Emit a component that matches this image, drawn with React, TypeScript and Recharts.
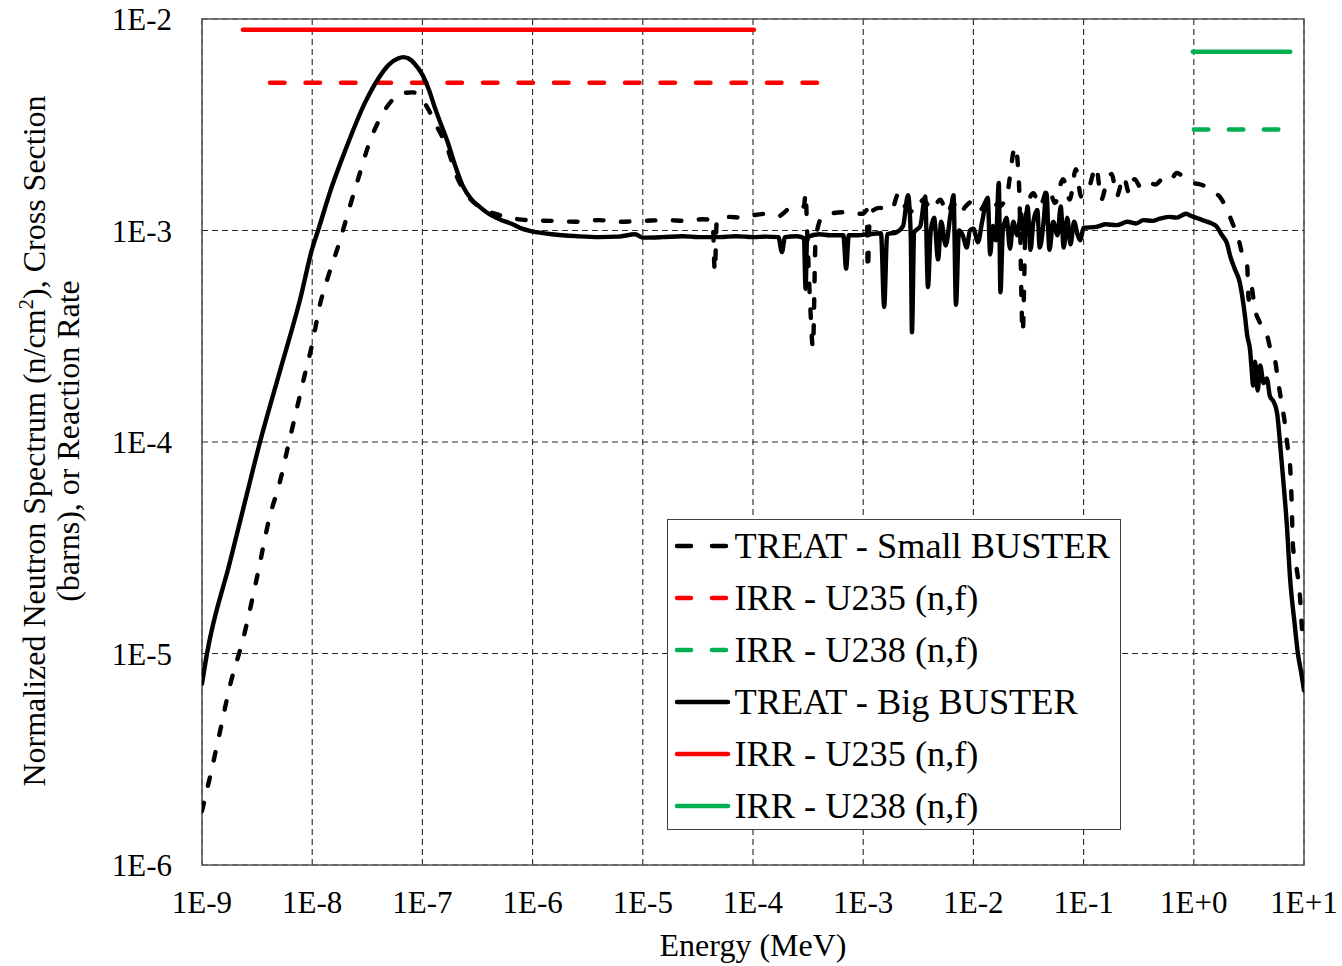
import React from 'react';
import {
  ComposedChart,
  Line,
  XAxis,
  YAxis,
  CartesianGrid,
  Legend,
  ReferenceArea,
} from 'recharts';

const FONT = '"Liberation Serif", "Times New Roman", serif';

const X_TICKS = [1e-9, 1e-8, 1e-7, 1e-6, 1e-5, 1e-4, 1e-3, 1e-2, 1e-1, 1, 10];
const X_TICK_LABELS = ['1E-9', '1E-8', '1E-7', '1E-6', '1E-5', '1E-4', '1E-3', '1E-2', '1E-1', '1E+0', '1E+1'];
const Y_TICKS = [1e-6, 1e-5, 1e-4, 1e-3, 1e-2];
const Y_TICK_LABELS = ['1E-6', '1E-5', '1E-4', '1E-3', '1E-2'];

// [energy (MeV), value]
const SMALL_BUSTER: [number, number][] = [
  [1e-9, 1.8e-6], [1.18e-9, 2.6e-6], [1.46e-9, 4.3e-6], [1.8e-9, 7.1e-6], [2.36e-9, 1.17e-5],
  [3.16e-9, 2.3e-5], [4.1e-9, 4.4e-5], [5.1e-9, 6.5e-5], [6e-9, 9.4e-5], [7.3e-9, 1.46e-4],
  [8.6e-9, 2.1e-4], [1e-8, 2.9e-4], [1.18e-8, 4.5e-4], [1.36e-8, 5.8e-4], [1.79e-8, 9.0e-4],
  [2.11e-8, 1.21e-3], [2.71e-8, 1.87e-3], [3.2e-8, 2.48e-3], [4.4e-8, 3.6e-3], [5.5e-8, 4.2e-3],
  [6.67e-8, 4.46e-3], [8.2e-8, 4.5e-3], [9.5e-8, 4.3e-3], [1.1e-7, 3.84e-3], [1.36e-7, 3.09e-3],
  [1.67e-7, 2.48e-3], [2.06e-7, 1.79e-3], [2.6e-7, 1.45e-3], [3.33e-7, 1.29e-3], [5.06e-7, 1.18e-3],
  [8.9e-7, 1.12e-3], [1.5e-6, 1.11e-3], [2.5e-6, 1.1e-3], [4e-6, 1.12e-3], [6e-6, 1.1e-3],
  [1e-5, 1.11e-3], [1.6e-5, 1.12e-3], [2.5e-5, 1.11e-3], [3.5e-5, 1.13e-3], [4.3e-5, 1.12e-3],
  [4.5e-5, 6.4e-4], [4.7e-5, 1.13e-3], [6e-5, 1.16e-3], [8e-5, 1.15e-3], [1e-4, 1.18e-3],
  [1.3e-4, 1.2e-3], [1.7e-4, 1.17e-3], [2.2e-4, 1.28e-3], [2.9e-4, 1.3e-3], [3.0e-4, 1.5e-3],
  [3.1e-4, 1.0e-3], [3.3e-4, 4.5e-4], [3.5e-4, 2.8e-4], [3.7e-4, 9.0e-4], [4.2e-4, 1.15e-3],
  [5e-4, 1.2e-3], [6.5e-4, 1.22e-3], [8e-4, 1.2e-3], [1.0e-3, 1.2e-3], [1.08e-3, 1.25e-3],
  [1.1e-3, 6.5e-4], [1.15e-3, 1.2e-3], [1.4e-3, 1.28e-3], [1.8e-3, 1.25e-3], [2.1e-3, 1.5e-3],
  [2.4e-3, 1.3e-3], [3e-3, 1.22e-3], [3.5e-3, 1.4e-3], [4.2e-3, 1.25e-3], [5e-3, 1.4e-3],
  [5.8e-3, 1.2e-3], [6.5e-3, 1.35e-3], [7.5e-3, 1.2e-3], [8.5e-3, 1.3e-3], [1.0e-2, 1.38e-3],
  [1.15e-2, 1.25e-3], [1.4e-2, 1.45e-3], [1.7e-2, 1.3e-3], [2.0e-2, 1.45e-3], [2.4e-2, 2.5e-3],
  [2.6e-2, 1.6e-3], [2.8e-2, 3.3e-4], [3.0e-2, 1.2e-3], [3.5e-2, 1.5e-3], [4e-2, 1.3e-3],
  [4.8e-2, 1.6e-3], [5.5e-2, 1.35e-3], [6.5e-2, 1.75e-3], [7.5e-2, 1.4e-3], [8.5e-2, 1.95e-3],
  [9.5e-2, 1.45e-3], [1.1e-1, 1.55e-3], [1.3e-1, 2.0e-3], [1.45e-1, 1.4e-3], [1.6e-1, 1.65e-3],
  [1.8e-1, 1.85e-3], [2.0e-1, 1.45e-3], [2.3e-1, 1.8e-3], [2.6e-1, 1.5e-3], [2.9e-1, 1.75e-3],
  [3.3e-1, 1.6e-3], [3.8e-1, 1.7e-3], [4.5e-1, 1.65e-3], [5.2e-1, 1.75e-3], [6e-1, 1.7e-3],
  [7e-1, 1.87e-3], [8.5e-1, 1.75e-3], [9.8e-1, 1.68e-3], [1.15, 1.65e-3], [1.32, 1.6e-3],
  [1.5, 1.52e-3], [1.73, 1.44e-3], [2.13, 1.16e-3], [2.3, 1.05e-3], [2.52, 9.3e-4],
  [2.8, 7.5e-4], [3.04, 7.0e-4], [3.15, 4.7e-4], [3.3, 5.5e-4], [3.6, 4.2e-4],
  [3.98, 3.66e-4], [4.3, 3.3e-4], [4.6, 3.2e-4], [5.0, 2.7e-4], [5.45, 2.45e-4],
  [5.8, 1.96e-4], [6.3, 1.5e-4], [6.7, 1.23e-4], [7.1, 9.5e-5], [7.46, 7.9e-5],
  [7.7, 5.5e-5], [7.95, 3.2e-5], [8.5, 2.6e-5], [9.2, 1.85e-5], [9.6, 1.3e-5], [10, 1.1e-5],
];

const BIG_BUSTER: [number, number][] = [
  [1e-9, 7.2e-6], [1.11e-9, 1.0e-5], [1.79e-9, 2.7e-5], [2.45e-9, 5.2e-5], [3.36e-9, 1.0e-4],
  [5.1e-9, 2.17e-4], [7.74e-9, 4.69e-4], [1e-8, 8.2e-4], [1.13e-8, 1.0e-3], [1.5e-8, 1.6e-3],
  [2e-8, 2.4e-3], [3e-8, 4.0e-3], [4e-8, 5.25e-3],
  [5e-8, 6.1e-3], [6e-8, 6.5e-3], [6.7e-8, 6.6e-3], [7.5e-8, 6.5e-3], [8.5e-8, 6.15e-3],
  [1e-7, 5.45e-3], [1.15e-7, 4.6e-3], [1.3e-7, 3.8e-3], [1.5e-7, 3.1e-3], [1.67e-7, 2.68e-3],
  [2e-7, 2.0e-3], [2.33e-7, 1.62e-3], [2.8e-7, 1.4e-3], [3.33e-7, 1.29e-3], [4e-7, 1.2e-3],
  [5e-7, 1.13e-3], [6.6e-7, 1.07e-3], [8e-7, 1.02e-3], [1e-6, 9.9e-4], [1.5e-6, 9.6e-4],
  [2.5e-6, 9.4e-4], [4e-6, 9.3e-4], [6e-6, 9.35e-4], [8.5e-6, 9.6e-4], [1e-5, 9.25e-4],
  [1.5e-5, 9.3e-4], [2.3e-5, 9.4e-4], [3.2e-5, 9.3e-4], [5e-5, 9.3e-4], [7e-5, 9.4e-4],
  [1e-4, 9.3e-4], [1.3e-4, 9.35e-4], [1.7e-4, 9.3e-4], [1.83e-4, 7.9e-4], [1.95e-4, 9.3e-4],
  [2.5e-4, 9.4e-4], [2.9e-4, 9.2e-4], [3.0e-4, 5.3e-4], [3.1e-4, 9.3e-4], [4e-4, 9.6e-4],
  [5e-4, 9.5e-4], [6.6e-4, 9.5e-4], [7.0e-4, 6.6e-4], [7.4e-4, 9.5e-4], [9e-4, 9.5e-4],
  [1.1e-3, 9.6e-4], [1.45e-3, 9.7e-4], [1.55e-3, 4.35e-4], [1.65e-3, 9.6e-4], [2.0e-3, 9.8e-4],
  [2.3e-3, 1.05e-3], [2.55e-3, 1.47e-3], [2.7e-3, 9.5e-4], [2.77e-3, 3.3e-4], [2.9e-3, 9.8e-4],
  [3.3e-3, 1.05e-3], [3.65e-3, 1.45e-3], [3.87e-3, 5.4e-4], [4.1e-3, 1.0e-3], [4.4e-3, 1.15e-3],
  [4.78e-3, 7.3e-4], [5.1e-3, 1.1e-3], [5.6e-3, 8.5e-4], [6.2e-3, 1.2e-3], [6.6e-3, 1.47e-3],
  [6.95e-3, 4.45e-4], [7.4e-3, 1.0e-3], [8.0e-3, 9.5e-4], [8.7e-3, 8.3e-4], [9.3e-3, 1.0e-3],
  [1.0e-2, 1.02e-3], [1.1e-2, 8.8e-4], [1.2e-2, 1.1e-3], [1.35e-2, 1.43e-3], [1.42e-2, 7.7e-4],
  [1.5e-2, 1.05e-3], [1.6e-2, 9.0e-4], [1.7e-2, 1.68e-3], [1.76e-2, 5.1e-4], [1.85e-2, 1.0e-3],
  [2.0e-2, 1.15e-3], [2.15e-2, 8.2e-4], [2.3e-2, 1.1e-3], [2.5e-2, 9.5e-4], [2.7e-2, 1.2e-3],
  [2.9e-2, 9.0e-4], [3.1e-2, 1.3e-3], [3.3e-2, 8.1e-4], [3.5e-2, 1.1e-3], [3.8e-2, 1.25e-3],
  [4.0e-2, 8.3e-4], [4.3e-2, 1.05e-3], [4.6e-2, 1.5e-3], [4.9e-2, 8.1e-4], [5.3e-2, 1.1e-3],
  [5.8e-2, 9.5e-4], [6.2e-2, 1.3e-3], [6.6e-2, 8.3e-4], [7.1e-2, 1.15e-3], [7.6e-2, 8.6e-4],
  [8.2e-2, 1.1e-3], [8.8e-2, 9.6e-4], [9.3e-2, 9.0e-4], [1.0e-1, 1.03e-3], [1.3e-1, 1.04e-3],
  [1.6e-1, 1.07e-3], [2.0e-1, 1.06e-3], [2.5e-1, 1.1e-3], [3e-1, 1.08e-3], [3.5e-1, 1.12e-3],
  [4.2e-1, 1.11e-3], [5e-1, 1.14e-3], [6e-1, 1.16e-3], [7e-1, 1.15e-3], [8.5e-1, 1.2e-3],
  [9.5e-1, 1.17e-3], [1.2, 1.12e-3], [1.45, 1.08e-3], [1.62, 1.04e-3], [1.8, 9.5e-4],
  [2.0, 8.7e-4], [2.15, 7.5e-4], [2.35, 6.6e-4], [2.62, 5.65e-4], [2.8, 4.6e-4],
  [2.92, 3.9e-4], [3.05, 3.2e-4], [3.24, 2.72e-4], [3.35, 2.2e-4], [3.45, 1.85e-4],
  [3.6, 2.4e-4], [3.8, 1.75e-4], [4.0, 2.3e-4], [4.3, 1.9e-4], [4.6, 2.0e-4],
  [4.9, 1.65e-4], [5.3, 1.55e-4], [5.7, 1.37e-4], [6.05, 1.0e-4], [6.5, 6.5e-5],
  [7.0, 4.0e-5], [7.46, 2.3e-5], [8.2, 1.4e-5], [8.8, 1.0e-5], [9.4, 8.2e-6], [10, 6.7e-6],
];

const IRR_U235_SMALL: [number, number][] = [[4.14e-9, 5.0e-3], [3.9e-4, 5.0e-3]];
const IRR_U238_SMALL: [number, number][] = [[1.0, 3.0e-3], [6.3, 3.0e-3]];
const IRR_U235_BIG: [number, number][] = [[2.35e-9, 8.9e-3], [1.02e-4, 8.9e-3]];
const IRR_U238_BIG: [number, number][] = [[0.98, 7.0e-3], [7.5, 7.0e-3]];

type Series = {
  name: string;
  points: [number, number][];
  color: string;
  width: number;
  dash?: string;
  curve: 'monotone' | 'linear';
};

const SERIES: Series[] = [
  { name: 'TREAT - Small BUSTER', points: SMALL_BUSTER, color: '#000000', width: 4.4, dash: '8.5 17.5', curve: 'monotone' },
  { name: 'IRR - U235 (n,f)', points: IRR_U235_SMALL, color: '#FF0000', width: 4.5, dash: '14.5 21', curve: 'linear' },
  { name: 'IRR - U238 (n,f)', points: IRR_U238_SMALL, color: '#00B050', width: 4.5, dash: '14.5 20.5', curve: 'linear' },
  { name: 'TREAT - Big BUSTER', points: BIG_BUSTER, color: '#000000', width: 4.4, curve: 'monotone' },
  { name: 'IRR - U235 (n,f)', points: IRR_U235_BIG, color: '#FF0000', width: 4.5, curve: 'linear' },
  { name: 'IRR - U238 (n,f)', points: IRR_U238_BIG, color: '#00B050', width: 4.5, curve: 'linear' },
];

const labelFor = (ticks: number[], labels: string[]) => (v: number) => {
  const i = ticks.findIndex((t) => Math.abs(Math.log10(t) - Math.log10(v)) < 1e-6);
  return i >= 0 ? labels[i] : '';
};

const XTitle = () => (
  <text x={753} y={956} textAnchor="middle" fontFamily={FONT} fontSize={32} fill="#000">
    Energy (MeV)
  </text>
);

const YTitle = () => (
  <g fontFamily={FONT} fontSize={32} fill="#000">
    <text transform="translate(45, 441) rotate(-90)" textAnchor="middle">
      Normalized Neutron Spectrum (n/cm
      <tspan dy={-12} fontSize={21}>2</tspan>
      <tspan dy={12}>), Cross Section</tspan>
    </text>
    <text transform="translate(79, 441) rotate(-90)" textAnchor="middle">
      (barns), or Reaction Rate
    </text>
  </g>
);

const LegendBox = () => (
  <div
    style={{
      width: 454,
      height: 311,
      boxSizing: 'border-box',
      border: '1.5px solid #404040',
      background: '#ffffff',
      fontFamily: FONT,
      fontSize: 36.3,
      color: '#000',
    }}
  >
    {SERIES.map((s, i) => (
      <div key={i} style={{ display: 'flex', alignItems: 'center', height: 52, whiteSpace: 'nowrap' }}>
        <svg width={60} height={12} style={{ marginLeft: 4.5, flex: 'none' }}>
          <line
            x1={4}
            x2={55}
            y1={6}
            y2={6}
            stroke={s.color}
            strokeWidth={4.5}
            strokeLinecap="round"
            strokeDasharray={s.dash ? '14 21' : undefined}
          />
        </svg>
        <span style={{ marginLeft: 2, lineHeight: '52px' }}>{s.name}</span>
      </div>
    ))}
  </div>
);

export default function App() {
  return (
    <div style={{ position: 'absolute', left: 0, top: 0, width: 1342, height: 966, background: '#fff' }}>
      <ComposedChart width={1342} height={966} margin={{ top: 19, right: 38, bottom: 0, left: 0 }}>
        <CartesianGrid stroke="#262626" strokeWidth={1.1} strokeDasharray="6 4" />
        <XAxis
          type="number"
          dataKey="x"
          scale="log"
          domain={[1e-9, 10]}
          allowDataOverflow
          ticks={X_TICKS}
          interval={0}
          tickFormatter={labelFor(X_TICKS, X_TICK_LABELS)}
          tickLine={false}
          axisLine={false}
          tickSize={0}
          tickMargin={26}
          height={101}
          tick={{ fontSize: 31, fill: '#000', fontFamily: FONT }}
          label={{ content: XTitle }}
        />
        <YAxis
          type="number"
          dataKey="y"
          scale="log"
          domain={[1e-6, 1e-2]}
          allowDataOverflow
          ticks={Y_TICKS}
          interval={0}
          tickFormatter={labelFor(Y_TICKS, Y_TICK_LABELS)}
          tickLine={false}
          axisLine={false}
          tickSize={0}
          tickMargin={30}
          width={202}
          tick={{ fontSize: 31, fill: '#000', fontFamily: FONT }}
          label={{ content: YTitle }}
        />
        <ReferenceArea
          x1={1e-9}
          x2={10}
          y1={1e-6}
          y2={1e-2}
          fill="none"
          fillOpacity={0}
          stroke="#595959"
          strokeWidth={1.6}
          ifOverflow="visible"
        />
        {SERIES.map((s, i) => (
          <Line
            key={i}
            name={s.name}
            data={s.points.map(([x, y]) => ({ x, y }))}
            dataKey="y"
            type={s.curve}
            stroke={s.color}
            strokeWidth={s.width}
            strokeDasharray={s.dash}
            strokeLinecap="round"
            strokeLinejoin="round"
            dot={false}
            activeDot={false}
            isAnimationActive={false}
          />
        ))}
        <Legend
          layout="vertical"
          align="center"
          verticalAlign="middle"
          content={LegendBox}
          wrapperStyle={{ left: 667, top: 519, width: 454, height: 311, right: 'auto', bottom: 'auto' }}
        />
      </ComposedChart>
    </div>
  );
}
